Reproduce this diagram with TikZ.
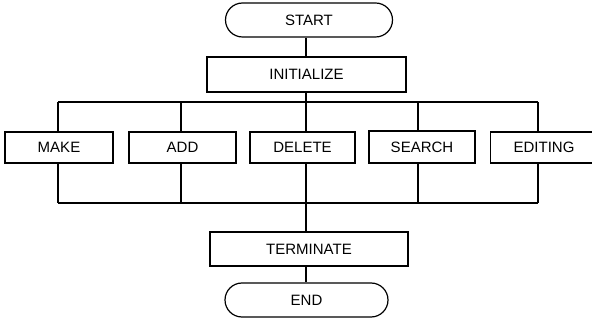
\documentclass[tikz,border=0pt]{standalone}
\usepackage{fontspec}
\setmainfont{Liberation Sans}
\usetikzlibrary{shapes.misc}
\begin{document}
\begin{tikzpicture}[x=1pt,y=-1pt,line width=1.2pt,
  box/.style={draw,rectangle,inner sep=0pt,font=\fontsize{15}{17}\selectfont,minimum height=32pt},
  term/.style={draw,rounded rectangle,inner sep=0pt,font=\fontsize{15}{17}\selectfont,minimum height=34pt}]
\useasboundingbox (0,0) rectangle (592,320);
\node[term,minimum width=167pt] (start) at (309,20) {START};
\node[box,minimum width=199pt,minimum height=35pt] (init) at (306.5,74.5) {INITIALIZE};
\node[box,minimum width=108pt,minimum height=31pt] (make) at (59,147.5) {MAKE};
\node[box,minimum width=107pt,minimum height=31pt] (add) at (182.5,147.5) {ADD};
\node[box,minimum width=105pt,minimum height=31pt] (delete) at (302.5,147.5) {DELETE};
\node[box,minimum width=106pt,minimum height=32pt] (search) at (422,147) {SEARCH};
\node[box,minimum width=130pt,minimum height=31pt,text width=130pt,align=left,anchor=west] (editing) at (490,147.5) {\hspace*{23pt}EDITING};
\node[box,minimum width=198pt,minimum height=34pt] (terminate) at (309,249) {TERMINATE};
\node[term,minimum width=163pt] (end) at (306.5,300) {END};
% bus coordinates
\coordinate (t1) at (58,102);
\coordinate (t2) at (181,102);
\coordinate (t3) at (306,102);
\coordinate (t4) at (418,102);
\coordinate (t5) at (538,102);
\coordinate (b1) at (58,203);
\coordinate (b2) at (181,203);
\coordinate (b3) at (306,203);
\coordinate (b4) at (418,203);
\coordinate (b5) at (538,203);
% connectors
\draw (start.south -| t3) -- (init.north -| t3);
\draw (init.south -| t3) -- (t3);
\draw (t1) -- (t5);
\draw (b1) -- (b5);
\foreach \i/\n in {1/make,2/add,3/delete,4/search,5/editing}{
  \draw (t\i) -- (t\i |- \n.north);
  \draw (b\i |- \n.south) -- (b\i);
}
\draw (b3) -- (b3 |- terminate.north);
\draw (terminate.south -| b3) -- (end.north -| b3);
\end{tikzpicture}
\end{document}
